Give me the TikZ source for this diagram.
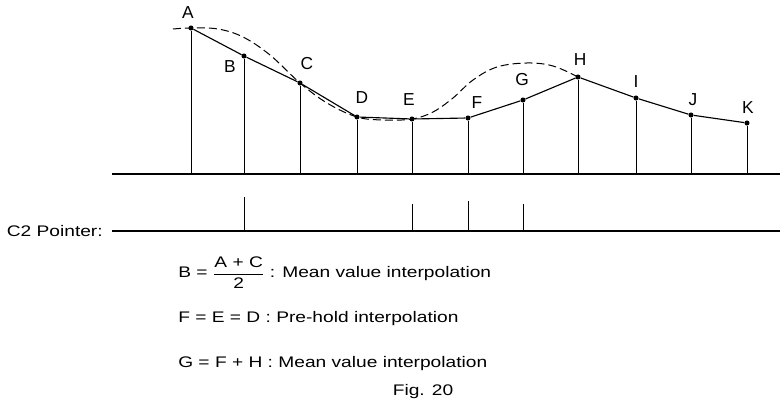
\documentclass[tikz,border=0pt]{standalone}
\usepackage{fontspec}
\setmainfont{Liberation Sans}[FakeStretch=1.25]
\newfontfamily\lblfont{Liberation Sans}
\tikzset{
	dot/.style={circle, fill=black, inner sep=0pt, minimum size=3.8pt},
	lbl/.style={font=\lblfont\fontsize{13}{15}\selectfont, inner sep=0pt},
	txt/.style={font=\fontsize{11.5}{14}\selectfont, inner sep=0pt},
	stem/.style={line width=0.75pt},
	axisline/.style={line width=2.2pt},
	wave/.style={dash pattern=on 6pt off 3pt, line width=0.75pt}
}
\begin{document}
\begin{tikzpicture}[x=0.75pt, y=0.75pt, line join=round, >=stealth]
	\useasboundingbox (0,-235) rectangle (780,174);
	\coordinate (base) at (0,0);
	% Trục thời gian
	\draw[axisline] (112,0) -- (780,0);
	
	% Các điểm mẫu
	\node[dot] (A) at (191,146) {};
	\node[dot] (B) at (244,118) {};
	\node[dot] (C) at (300,91)  {};
	\node[dot] (D) at (357,57)  {};
	\node[dot] (E) at (412,55)  {};
	\node[dot] (F) at (468,56)  {};
	\node[dot] (G) at (523,74)  {};
	\node[dot] (H) at (578,97)  {};
	\node[dot] (I) at (636,76)  {};
	\node[dot] (J) at (691,59)  {};
	\node[dot] (K) at (747,51)  {};
	
	\node[lbl] (labA) at (188,161) {A};
	\node[lbl] (labB) at (230,107) {B};
	\node[lbl] (labC) at (307,110) {C};
	\node[lbl] (labD) at (362,76)  {D};
	\node[lbl] (labE) at (409,74)  {E};
	\node[lbl] (labF) at (477,71)  {F};
	\node[lbl] (labG) at (522,94)  {G};
	\node[lbl] (labH) at (580,114) {H};
	\node[lbl] (labI) at (636,92)  {I};
	\node[lbl] (labJ) at (693,74)  {J};
	\node[lbl] (labK) at (748,66)  {K};
	
	\foreach \p in {A,B,C,D,E,F,G,H,I,J,K}
		\draw[stem] (\p) -- (\p |- base);
	\draw[line width=0.85pt] (A) -- (B) -- (C) -- (D) -- (E) -- (F) -- (G) -- (H) -- (I) -- (J) -- (K);
	
	% Đường cong gốc (dashed)
	\draw[wave] plot[smooth, tension=0.6] coordinates {(173,145) (A.center) (218,145) (243,137) (270,119) (C.center) (327,71) (D.center) (384,54) (E.center) (433,62) (453,76) (473,94) (497,107) (527,111) (553,108) (H.center)};
	
	% C2 Pointer
	\node[txt, anchor=east] (ptr) at (103,-57) {C2 Pointer:};
	\coordinate (ptrL) at (112,-57);
	\draw[axisline] (ptrL) -- (780,-57);
	\foreach \p/\h in {B/34, E/27, F/30, G/27}
		\draw[stem] (\p |- ptrL) -- ++(0,\h);
	
	% Chú thích
	\node[txt, anchor=base west] (eqB) at (178,-104) {B = $\displaystyle\frac{\mbox{A + C}}{\mbox{2}}$ : Mean value interpolation};
	\node[txt, anchor=base west] (eqF) at (178,-149) {F = E = D : Pre-hold interpolation};
	\node[txt, anchor=base west] (eqG) at (178,-194) {G = F + H : Mean value interpolation};
	\node[txt, anchor=base] (fig) at (423,-221) {Fig. 20};
\end{tikzpicture}
\end{document}
